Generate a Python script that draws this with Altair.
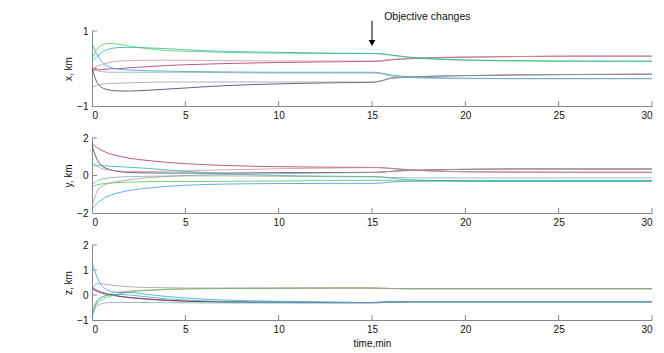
import altair as alt
import pandas as pd

T = [0, 0.25, 0.5, 1, 1.5, 2, 3, 4, 5, 7, 10, 13, 15, 15.5, 16, 17, 18, 20, 23, 26, 30]
AGENTS = ["a1", "a2", "a3", "a4", "a5", "a6", "a7", "a8"]
COLORS = ["#3d2b56", "#a3295f", "#d48a8a", "#4cc84c", "#22b0b0", "#3399d6", "#9a9a9a", "#7fa8a8"]

# x, km
X_A1 = [0.0, -0.35, -0.5, -0.58, -0.6, -0.6, -0.58, -0.55, -0.52, -0.46, -0.41, -0.38, -0.37, -0.33, -0.26, -0.23, -0.21, -0.19, -0.17, -0.16, -0.15]
X_A2 = [-0.05, -0.04, -0.03, -0.01, 0.0, 0.02, 0.05, 0.08, 0.1, 0.13, 0.16, 0.18, 0.19, 0.2, 0.23, 0.26, 0.28, 0.3, 0.32, 0.33, 0.33]
X_A3 = [0.0, 0.05, 0.1, 0.17, 0.2, 0.21, 0.22, 0.22, 0.22, 0.21, 0.2, 0.2, 0.2, 0.21, 0.24, 0.27, 0.29, 0.31, 0.32, 0.33, 0.33]
X_A4 = [0.25, 0.5, 0.62, 0.67, 0.64, 0.6, 0.53, 0.48, 0.46, 0.43, 0.41, 0.4, 0.4, 0.39, 0.36, 0.3, 0.26, 0.22, 0.2, 0.19, 0.18]
X_A5 = [0.2, 0.3, 0.42, 0.53, 0.56, 0.56, 0.55, 0.53, 0.5, 0.46, 0.43, 0.41, 0.4, 0.39, 0.36, 0.3, 0.27, 0.23, 0.21, 0.2, 0.2]
X_A6 = [0.65, 0.4, 0.2, 0.03, -0.02, -0.04, -0.06, -0.07, -0.08, -0.09, -0.1, -0.1, -0.1, -0.12, -0.17, -0.22, -0.24, -0.26, -0.27, -0.27, -0.27]
X_A7 = [-0.5, -0.45, -0.42, -0.4, -0.39, -0.38, -0.37, -0.36, -0.36, -0.36, -0.36, -0.36, -0.36, -0.33, -0.26, -0.23, -0.21, -0.19, -0.17, -0.16, -0.15]
X_A8 = [0.02, -0.05, -0.08, -0.1, -0.1, -0.1, -0.1, -0.1, -0.1, -0.11, -0.12, -0.12, -0.12, -0.14, -0.2, -0.24, -0.26, -0.27, -0.27, -0.27, -0.27]

# y, km
Y_A1 = [1.6, 0.9, 0.55, 0.3, 0.2, 0.16, 0.14, 0.13, 0.13, 0.13, 0.15, 0.16, 0.17, 0.18, 0.22, 0.27, 0.3, 0.33, 0.35, 0.35, 0.35]
Y_A2 = [1.72, 1.5, 1.35, 1.15, 1.02, 0.92, 0.8, 0.7, 0.63, 0.54, 0.47, 0.44, 0.43, 0.42, 0.38, 0.3, 0.25, 0.2, 0.18, 0.17, 0.17]
Y_A3 = [0.75, 0.5, 0.38, 0.28, 0.24, 0.22, 0.22, 0.23, 0.25, 0.3, 0.36, 0.4, 0.42, 0.41, 0.38, 0.3, 0.25, 0.2, 0.18, 0.17, 0.17]
Y_A4 = [-0.6, -0.5, -0.45, -0.4, -0.37, -0.35, -0.33, -0.32, -0.32, -0.31, -0.29, -0.27, -0.26, -0.26, -0.27, -0.29, -0.3, -0.31, -0.31, -0.31, -0.31]
Y_A5 = [0.55, 0.55, 0.53, 0.5, 0.47, 0.44, 0.38, 0.3, 0.22, 0.1, 0.0, -0.04, -0.06, -0.08, -0.14, -0.22, -0.26, -0.29, -0.3, -0.31, -0.31]
Y_A6 = [-1.8, -1.5, -1.3, -1.05, -0.9, -0.8, -0.67, -0.58, -0.52, -0.46, -0.43, -0.42, -0.42, -0.4, -0.35, -0.3, -0.28, -0.27, -0.27, -0.27, -0.27]
Y_A7 = [-1.7, -0.9, -0.6, -0.4, -0.3, -0.22, -0.12, -0.05, 0.0, 0.05, 0.1, 0.14, 0.16, 0.18, 0.22, 0.27, 0.3, 0.33, 0.35, 0.35, 0.35]
Y_A8 = [-0.5, -0.3, -0.2, -0.12, -0.08, -0.06, -0.04, -0.03, -0.02, -0.02, -0.04, -0.06, -0.07, -0.08, -0.1, -0.12, -0.13, -0.13, -0.13, -0.13, -0.13]

# z, km
Z_A1 = [0.25, 0.15, 0.08, 0.0, -0.06, -0.1, -0.16, -0.21, -0.24, -0.27, -0.29, -0.3, -0.3, -0.29, -0.28, -0.27, -0.27, -0.27, -0.27, -0.27, -0.27]
Z_A2 = [0.3, 0.2, 0.12, 0.02, -0.05, -0.1, -0.17, -0.22, -0.25, -0.28, -0.3, -0.31, -0.31, -0.3, -0.28, -0.27, -0.27, -0.27, -0.27, -0.27, -0.27]
Z_A3 = [-0.6, -0.25, -0.1, 0.05, 0.12, 0.16, 0.2, 0.23, 0.25, 0.26, 0.27, 0.28, 0.28, 0.27, 0.26, 0.25, 0.25, 0.25, 0.25, 0.25, 0.25]
Z_A4 = [-0.7, -0.35, -0.2, -0.05, 0.05, 0.12, 0.18, 0.22, 0.24, 0.26, 0.27, 0.28, 0.28, 0.27, 0.26, 0.25, 0.25, 0.25, 0.25, 0.25, 0.25]
Z_A5 = [-0.9, -0.3, -0.1, 0.0, 0.02, 0.0, -0.08, -0.15, -0.2, -0.26, -0.29, -0.3, -0.3, -0.29, -0.28, -0.27, -0.27, -0.27, -0.27, -0.27, -0.27]
Z_A6 = [1.3, 0.75, 0.4, 0.15, 0.1, 0.1, 0.02, -0.06, -0.12, -0.2, -0.25, -0.28, -0.3, -0.29, -0.28, -0.27, -0.27, -0.27, -0.27, -0.27, -0.27]
Z_A7 = [0.2, 0.45, 0.45, 0.4, 0.36, 0.33, 0.3, 0.29, 0.28, 0.28, 0.28, 0.28, 0.28, 0.27, 0.26, 0.25, 0.25, 0.25, 0.25, 0.25, 0.25]
Z_A8 = [-0.8, -0.45, -0.35, -0.3, -0.3, -0.3, -0.3, -0.31, -0.31, -0.32, -0.32, -0.32, -0.32, -0.31, -0.29, -0.27, -0.27, -0.27, -0.27, -0.27, -0.27]

X_TICKS = [0, 5, 10, 15, 20, 25, 30]
NOTE_TEXT = "Objective changes"
NOTE_T = 15
NOTE_TEXT_T = 15.65
NOTE_TEXT_V = 1.37
ARROW_TOP = 1.27
ARROW_END = 0.7
ARROW_HEAD = 0.68

FONT = "Liberation Sans"
W, H = 560, 75


def frame(series):
    rows = []
    for agent, vals in zip(AGENTS, series):
        for t, v in zip(T, vals):
            rows.append({"agent": agent, "t": t, "v": v})
    return pd.DataFrame(rows)


def panel(series, ytitle, ydom, yvals, xtitle=False, note=False):
    xs = alt.Scale(domain=[0, 30], nice=False, zero=False)
    ys = alt.Scale(domain=ydom, nice=False, zero=False)
    xaxis = alt.Axis(values=X_TICKS, tickSize=0, labelPadding=4, format="d",
                     title="time,min" if xtitle else None, titlePadding=4)
    yaxis = alt.Axis(values=yvals, tickSize=0, labelPadding=4, format="d",
                     title=ytitle, titlePadding=3)
    X = lambda f: alt.X(f, scale=xs, axis=xaxis)
    Y = lambda f: alt.Y(f, scale=ys, axis=yaxis)
    lines = alt.Chart(frame(series)).mark_line(strokeWidth=0.9, interpolate="monotone", opacity=0.85).encode(
        x=X("t:Q"), y=Y("v:Q"),
        color=alt.Color("agent:N", scale=alt.Scale(domain=AGENTS, range=COLORS), legend=None),
    )
    xt = alt.Chart(pd.DataFrame({"t": X_TICKS[1:]})).mark_rule(color="#888", strokeWidth=1).encode(
        x=X("t:Q"), y=alt.value(H), y2=alt.value(H - 5)
    )
    yt = alt.Chart(pd.DataFrame({"v": yvals[1:]})).mark_rule(color="#888", strokeWidth=1).encode(
        y=Y("v:Q"), x=alt.value(0), x2=alt.value(5)
    )
    layers = [lines, xt, yt]
    if note:
        txt = alt.Chart(pd.DataFrame({"t": [NOTE_TEXT_T], "v": [NOTE_TEXT_V], "s": [NOTE_TEXT]})).mark_text(
            align="left", baseline="middle", font=FONT, fontSize=10.5, color="#111"
        ).encode(x=X("t:Q"), y=Y("v:Q"), text="s:N")
        arr = alt.Chart(pd.DataFrame({"t": [NOTE_T], "v": [ARROW_TOP], "v2": [ARROW_END]})).mark_rule(
            color="#000", strokeWidth=1
        ).encode(x=X("t:Q"), y=Y("v:Q"), y2="v2:Q")
        head = alt.Chart(pd.DataFrame({"t": [NOTE_T], "v": [ARROW_HEAD]})).mark_point(
            shape="triangle-down", filled=True, color="#000", size=45, opacity=1
        ).encode(x=X("t:Q"), y=Y("v:Q"))
        layers += [arr, head, txt]
    return alt.layer(*layers).properties(width=W, height=H)


p1 = panel([X_A1, X_A2, X_A3, X_A4, X_A5, X_A6, X_A7, X_A8], "x, km", [-1, 1], [-1, 0, 1], note=True)
p2 = panel([Y_A1, Y_A2, Y_A3, Y_A4, Y_A5, Y_A6, Y_A7, Y_A8], "y, km", [-2, 2], [-2, 0, 2])
p3 = panel([Z_A1, Z_A2, Z_A3, Z_A4, Z_A5, Z_A6, Z_A7, Z_A8], "z, km", [-1, 2], [-1, 0, 1, 2], xtitle=True)

chart = alt.vconcat(p1, p2, p3, spacing=32, bounds="flush").properties(
    padding={"left": 55, "top": 4, "right": 0, "bottom": 0}
).configure_view(stroke=None).configure_axis(
    grid=False, domainColor="#888", domainWidth=1, labelFont=FONT, titleFont=FONT,
    labelFontSize=10, titleFontSize=10, titleFontWeight="normal", labelColor="#111", titleColor="#111"
)

chart.save("out.html", embed_options={"renderer": "svg", "actions": False})
